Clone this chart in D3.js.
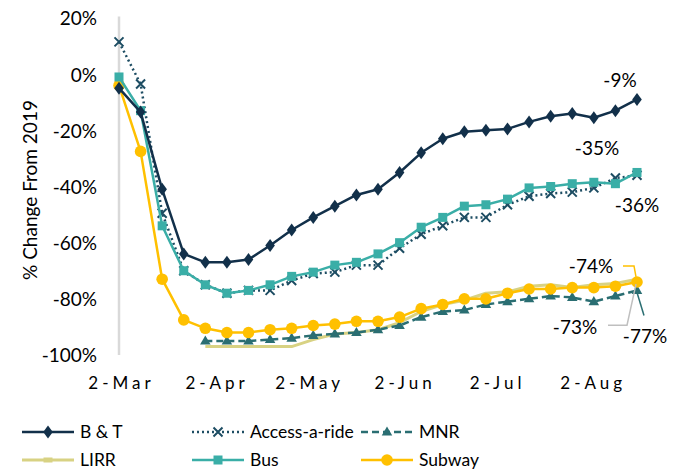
<!DOCTYPE html>
<html>
<head>
<meta charset="utf-8">
<script src="https://cdn.jsdelivr.net/npm/d3@7"></script>
<style>
  html, body { margin: 0; padding: 0; background: #fff; }
  svg { display: block; font-family: Lato, "Noto Sans", sans-serif; }
</style>
</head>
<body>
<svg id="chart" width="680" height="475"></svg>
<script>
// Weekly ridership change vs. 2019, by MTA agency
const weeks = [
  "2020-03-02", "2020-03-09", "2020-03-16", "2020-03-23", "2020-03-30",
  "2020-04-06", "2020-04-13", "2020-04-20", "2020-04-27", "2020-05-04",
  "2020-05-11", "2020-05-18", "2020-05-25", "2020-06-01", "2020-06-08",
  "2020-06-15", "2020-06-22", "2020-06-29", "2020-07-06", "2020-07-13",
  "2020-07-20", "2020-07-27", "2020-08-03", "2020-08-10", "2020-08-17"
];
const bt     = [-5, -13.5, -41, -64, -67, -67, -66, -61, -55.5, -51, -47, -43, -41, -35, -28, -23, -20.5, -20, -19.5, -17, -15, -14, -15.5, -13, -9];
const aar    = [11.5, -3.5, -49.5, -70, -75, -78, -77, -77, -73.5, -71, -70.5, -68, -68, -62, -57, -54, -51, -51, -46.5, -43.5, -42.5, -42, -40.5, -37, -36];
const mnr    = [null, null, null, null, -95, -95, -95, -94.5, -94, -93, -92.5, -92, -91, -89.5, -86.5, -84.5, -84, -82, -81, -80, -79, -79.5, -81, -79, -77];
const lirr   = [null, null, null, null, -97, -97, -97, -97, -97, -94.5, -92.5, -92, -91, -88.5, -84.5, -82, -80.5, -78, -77.5, -75.5, -75, -76, -75, -74.5, -73];
const bus    = [-1, -13, -54, -70, -75, -78, -77, -75, -72, -70.5, -68, -67, -64, -60, -54.5, -51, -47, -46.5, -44.5, -40.5, -40, -39, -38.5, -39, -35];
const subway = [-4, -27.5, -73, -87.5, -90.5, -92, -92, -91, -90.5, -89.5, -89, -88, -88, -86.5, -83.5, -82, -80, -80, -78, -76.5, -76.5, -76, -76, -75.5, -74];

const yTicks = [20, 0, -20, -40, -60, -80, -100];
const xTicks = ["2020-03-02", "2020-04-02", "2020-05-02", "2020-06-02", "2020-07-02", "2020-08-02"];

const parse = d3.timeParse("%Y-%m-%d");
const dates = weeks.map(parse);

const series = [
  { name: "B & T",        values: bt,     color: "#12304a", dash: null,    marker: "diamond",  width: 2.5 },
  { name: "Access-a-ride", values: aar,   color: "#1d4d63", dash: "2,3",   marker: "cross",    width: 2.5 },
  { name: "MNR",          values: mnr,    color: "#2a6e72", dash: "7,4",   marker: "triangle", width: 2.5 },
  { name: "LIRR",         values: lirr,   color: "#d8d283", dash: null,    marker: "dash",     width: 3 },
  { name: "Bus",          values: bus,    color: "#3aaea7", dash: null,    marker: "square",   width: 2.5 },
  { name: "Subway",       values: subway, color: "#ffc000", dash: null,    marker: "circle",   width: 2.5 }
];

const svg = d3.select("#chart");

const x = d3.scaleTime()
  .domain([dates[0], dates[dates.length - 1]])
  .range([119, 637]);
const y = d3.scaleLinear().domain([-100, 20]).range([355, 18]);

// vertical axis rule
svg.append("line")
  .attr("x1", x(dates[0])).attr("x2", x(dates[0]))
  .attr("y1", y(20.5)).attr("y2", y(-100))
  .attr("stroke", "#d9d9d9").attr("stroke-width", 2.5);

// y axis labels
const yAxis = d3.axisLeft(y)
  .tickValues(yTicks)
  .tickSize(0)
  .tickPadding(0)
  .tickFormat(d => d + "%");
svg.append("g")
  .attr("transform", "translate(97,0)")
  .call(yAxis)
  .call(g => g.select(".domain").remove())
  .selectAll("text")
  .attr("font-family", "Lato, 'Noto Sans', sans-serif")
  .attr("font-size", 19)
  .attr("fill", "#000")
  .attr("dy", "0.36em");

// x axis labels
const xAxis = d3.axisBottom(x)
  .tickValues(xTicks.map(parse))
  .tickSize(0)
  .tickPadding(0)
  .tickFormat(d3.timeFormat("%-d-%b"));
svg.append("g")
  .attr("transform", "translate(0,377)")
  .call(xAxis)
  .call(g => g.select(".domain").remove())
  .selectAll("text")
  .attr("font-family", "Lato, 'Noto Sans', sans-serif")
  .attr("font-size", 17)
  .attr("fill", "#000")
  .attr("dx", 2)
  .style("letter-spacing", "4px")
  .attr("dy", "0.71em");

// axis title
svg.append("text")
  .attr("transform", "translate(37,190) rotate(-90)")
  .attr("text-anchor", "middle")
  .attr("font-size", 19)
  .attr("fill", "#000")
  .text("% Change From 2019");

function drawMarker(g, type, color, cx, cy) {
  if (type === "diamond") {
    g.append("path").attr("d", d3.symbol(d3.symbolDiamond, 60)())
      .attr("transform", `translate(${cx},${cy}) scale(1.15,0.9)`).attr("fill", color);
  } else if (type === "square") {
    g.append("rect").attr("x", cx - 4.5).attr("y", cy - 4.5)
      .attr("width", 9).attr("height", 9).attr("fill", color);
  } else if (type === "circle") {
    g.append("circle").attr("cx", cx).attr("cy", cy).attr("r", 5.8).attr("fill", color);
  } else if (type === "triangle") {
    g.append("path").attr("d", d3.symbol(d3.symbolTriangle, 48)())
      .attr("transform", `translate(${cx},${cy + 0.5})`).attr("fill", color);
  } else if (type === "cross") {
    g.append("path").attr("d", `M${cx - 4.5},${cy - 4.5}L${cx + 4.5},${cy + 4.5}M${cx - 4.5},${cy + 4.5}L${cx + 4.5},${cy - 4.5}`)
      .attr("stroke", color).attr("stroke-width", 2);
  } else if (type === "dash") {
    g.append("rect").attr("x", cx - 4.5).attr("y", cy - 2.5)
      .attr("width", 9).attr("height", 5).attr("fill", color);
  }
}

// draw series; back-to-front order
const drawOrder = ["LIRR", "MNR", "Subway", "Access-a-ride", "Bus", "B & T"];
const line = d3.line()
  .defined(d => d.v !== null)
  .x(d => x(d.date))
  .y(d => y(d.v));

drawOrder.forEach(name => {
  const s = series.find(s => s.name === name);
  const pts = dates.map((date, i) => ({ date, v: s.values[i] }));
  const g = svg.append("g");
  g.append("path")
    .attr("d", line(pts))
    .attr("fill", "none")
    .attr("stroke", s.color)
    .attr("stroke-width", s.width)
    .attr("stroke-linejoin", "round")
    .attr("stroke-dasharray", s.dash);
  if (s.marker !== "dash") {
    pts.filter(p => p.v !== null).forEach(p => drawMarker(g, s.marker, s.color, x(p.date), y(p.v)));
  }
});

// end-of-series value labels
const last = arr => arr[arr.length - 1];
const endX = x(dates[dates.length - 1]);
const fmt = v => v + "%";
const labelFont = 19;
function endLabel(text, lx, ly, anchor) {
  svg.append("text").attr("x", lx).attr("y", ly)
    .attr("text-anchor", anchor).attr("font-size", labelFont)
    .attr("dy", "0.36em").attr("fill", "#000").text(text);
}
endLabel(fmt(last(bt)), endX - 17, y(last(bt)) - 19, "middle");
endLabel(fmt(last(bus)), endX - 40, y(last(bus)) - 24, "middle");
endLabel(fmt(last(aar)), endX, y(last(aar)) + 30, "middle");

// leader lines for the crowded bottom group
const ySub = y(last(subway)), yLirr = y(last(lirr)), yMnr = y(last(mnr));
svg.append("path")
  .attr("d", `M${endX - 14},${ySub - 16}H${endX - 3}L${endX - 1},${ySub - 5}`)
  .attr("fill", "none").attr("stroke", "#ffc000").attr("stroke-width", 1.5);
endLabel(fmt(last(subway)), endX - 46, ySub - 16, "middle");

svg.append("path")
  .attr("d", `M${endX - 29},${yLirr + 46}H${endX - 10}L${endX - 1},${yLirr + 5}`)
  .attr("fill", "none").attr("stroke", "#bfbfbf").attr("stroke-width", 1.5);
endLabel(fmt(last(lirr)), endX - 62, yLirr + 48, "middle");

svg.append("path")
  .attr("d", `M${endX + 7},${yMnr + 25}L${endX},${yMnr + 2}`)
  .attr("fill", "none").attr("stroke", "#2a6e72").attr("stroke-width", 1.5);
endLabel(fmt(last(mnr)), endX + 8, yMnr + 46, "middle");

// legend
const legendCols = [22, 192, 361];
const legendRows = [432, 460];
series.forEach((s, i) => {
  const lx = legendCols[i % 3], ly = legendRows[Math.floor(i / 3)];
  const g = svg.append("g");
  g.append("line").attr("x1", lx).attr("x2", lx + 52).attr("y1", ly).attr("y2", ly)
    .attr("stroke", s.color).attr("stroke-width", s.width)
    .attr("stroke-dasharray", s.dash);
  drawMarker(g, s.marker, s.color, lx + 26, ly);
  g.append("text").attr("x", lx + 58).attr("y", ly).attr("dy", "0.36em")
    .attr("font-size", 17.5).attr("fill", "#000").text(s.name);
});
</script>
</body>
</html>
